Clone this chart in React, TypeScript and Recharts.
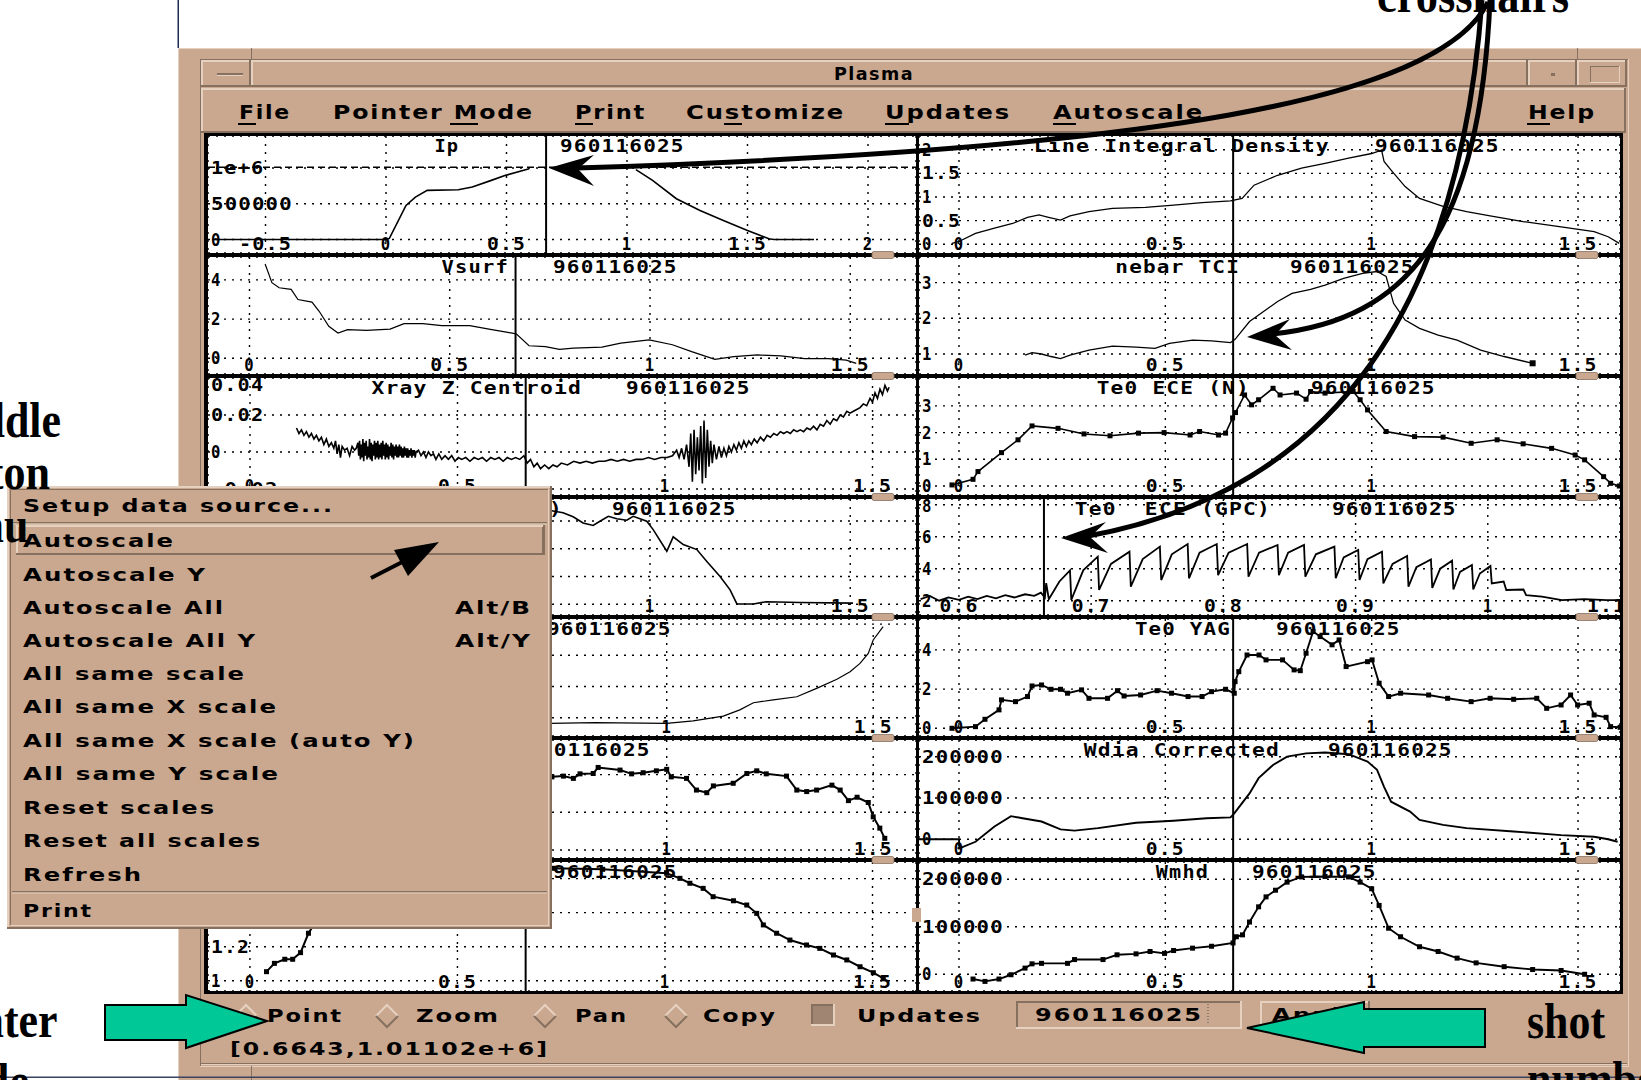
import React from "react";
import { LineChart, Line, XAxis, YAxis, CartesianGrid, ReferenceLine } from "recharts";

type Pt = [number, number | null];

const SHOT = "960116025";
const CROSS_X = 0.6643;
const CROSS_Y = 1.01102e6;
const COORD_TEXT = "[0.6643,1.01102e+6]";

// ---------------- series values ----------------
const ipData: Pt[] = [
  [-0.72, 0], [-0.3, 0], [0.0, 0], [0.014, 15000], [0.083, 477000], [0.122, 593000], [0.171, 687000],
  [0.3, 696000], [0.358, 734000], [0.437, 827000], [0.496, 897000], [0.594, 990000], [0.8, null],
  [1.037, 977000], [1.106, 827000], [1.205, 570000], [1.303, 407000], [1.4, 266000], [1.5, 126000],
  [1.589, 10000], [1.61, 0], [1.776, 0],
];
const vsurfData: Pt[] = [
  [0.039, 4.81], [0.056, 3.86], [0.074, 3.6], [0.104, 3.52], [0.121, 3.0], [0.156, 2.87], [0.174, 2.4],
  [0.198, 1.63], [0.221, 1.29], [0.245, 1.46], [0.292, 1.42], [0.351, 1.49], [0.386, 1.77], [0.433, 1.77],
  [0.48, 1.67], [0.55, 1.67], [0.598, 1.49], [0.645, 1.32], [0.666, 1.25], [0.698, 0.64], [0.739, 0.6],
  [0.774, 0.46], [0.809, 0.52], [0.88, 0.57], [0.927, 0.77], [0.998, 0.94], [1.056, 0.69], [1.104, 0.34],
  [1.162, -0.05], [1.209, 0.09], [1.268, 0.17], [1.327, 0.12], [1.386, -0.02], [1.445, -0.02], [1.49, -0.09],
  [1.515, -0.26],
];
const xrayData: Pt[] = [
  [0.112, 0.013], [0.118, 0.010], [0.124, 0.012], [0.130, 0.009], [0.136, 0.011], [0.142, 0.008], [0.148, 0.010],
  [0.154, 0.007], [0.160, 0.009], [0.166, 0.006], [0.172, 0.008], [0.178, 0.004], [0.184, 0.007], [0.190, 0.003],
  [0.196, 0.005], [0.202, 0.002], [0.206, 0.006], [0.210, -0.001], [0.214, 0.004], [0.218, -0.003], [0.222, 0.003],
  [0.228, 0.001], [0.234, 0.002], [0.240, -0.002], [0.246, 0.003], [0.252, 0.001], [0.256, 0.002],
  [0.260, 0.005], [0.262, -0.002], [0.264, 0.006], [0.266, -0.004], [0.268, 0.004], [0.270, -0.003], [0.272, 0.007],
  [0.274, -0.005], [0.276, 0.005], [0.278, -0.002], [0.280, 0.006], [0.282, -0.004], [0.284, 0.003], [0.286, -0.003],
  [0.288, 0.007], [0.290, -0.004], [0.292, 0.005], [0.294, -0.005], [0.296, 0.004], [0.298, -0.002], [0.300, 0.006],
  [0.302, -0.004], [0.304, 0.005], [0.306, -0.003], [0.308, 0.006], [0.310, -0.004], [0.312, 0.004], [0.314, -0.003],
  [0.316, 0.005], [0.318, -0.004], [0.320, 0.006], [0.322, -0.002], [0.324, 0.004], [0.326, -0.004], [0.328, 0.005],
  [0.330, -0.003], [0.332, 0.004], [0.334, -0.004], [0.336, 0.003], [0.338, -0.002], [0.340, 0.005], [0.342, -0.003],
  [0.344, 0.004], [0.346, -0.004], [0.348, 0.003], [0.350, -0.002], [0.352, 0.004], [0.354, -0.003], [0.356, 0.003],
  [0.358, -0.003], [0.360, 0.004], [0.362, -0.002], [0.364, 0.003], [0.366, -0.003], [0.368, 0.002], [0.370, -0.003],
  [0.372, 0.003], [0.374, -0.002], [0.376, 0.002], [0.378, -0.003], [0.380, 0.002], [0.382, -0.003], [0.384, 0.001],
  [0.386, -0.002], [0.388, 0.002], [0.390, -0.003], [0.392, 0.001], [0.394, -0.002], [0.396, 0.001], [0.398, -0.003],
  [0.400, 0.000], [0.406, 0.001], [0.412, -0.002],
  [0.418, 0.000], [0.424, -0.003], [0.430, 0.000], [0.436, -0.002], [0.442, -0.001], [0.448, -0.004], [0.455, -0.001],
  [0.462, -0.004], [0.470, -0.002], [0.478, -0.004], [0.486, -0.002], [0.494, -0.005], [0.502, -0.003], [0.510, -0.004],
  [0.520, -0.003], [0.530, -0.005], [0.540, -0.003], [0.550, -0.004], [0.560, -0.003], [0.570, -0.005], [0.580, -0.003],
  [0.590, -0.004], [0.600, -0.003], [0.610, -0.005], [0.620, -0.003], [0.630, -0.004], [0.640, -0.003], [0.650, -0.004],
  [0.660, -0.002], [0.668, -0.006], [0.676, -0.004], [0.684, -0.008], [0.692, -0.006], [0.700, -0.009], [0.710, -0.007],
  [0.720, -0.009], [0.730, -0.007], [0.740, -0.008], [0.750, -0.006], [0.765, -0.007], [0.780, -0.005], [0.795, -0.006],
  [0.810, -0.005], [0.825, -0.006], [0.840, -0.005], [0.855, -0.005], [0.870, -0.004], [0.885, -0.005], [0.900, -0.004],
  [0.915, -0.005], [0.930, -0.004], [0.945, -0.004], [0.960, -0.003], [0.975, -0.004], [0.990, -0.003], [1.005, -0.003],
  [1.018, -0.002], [1.028, 0.001], [1.034, -0.003], [1.040, 0.002], [1.046, -0.004], [1.052, 0.004], [1.058, -0.008],
  [1.062, 0.010], [1.066, -0.016], [1.070, 0.012], [1.074, -0.012], [1.078, 0.008], [1.082, -0.010], [1.086, 0.014],
  [1.090, -0.017], [1.094, 0.017], [1.098, -0.014], [1.102, 0.012], [1.106, -0.008], [1.110, 0.006], [1.114, -0.006],
  [1.118, 0.004], [1.124, -0.004], [1.130, 0.003], [1.136, -0.003], [1.142, 0.002], [1.148, -0.002], [1.154, 0.003],
  [1.160, 0.000], [1.166, 0.004], [1.172, 0.001], [1.178, 0.005], [1.184, 0.002], [1.190, 0.006], [1.196, 0.003],
  [1.202, 0.006], [1.208, 0.004], [1.215, 0.007], [1.222, 0.005], [1.230, 0.008], [1.238, 0.006], [1.246, 0.009],
  [1.254, 0.008], [1.262, 0.010], [1.270, 0.009], [1.278, 0.011], [1.286, 0.010], [1.294, 0.011], [1.302, 0.010],
  [1.310, 0.012], [1.318, 0.011], [1.326, 0.012], [1.334, 0.011], [1.342, 0.013], [1.350, 0.012], [1.358, 0.014],
  [1.366, 0.012], [1.374, 0.015], [1.382, 0.014], [1.390, 0.017], [1.398, 0.015], [1.406, 0.018], [1.414, 0.017],
  [1.422, 0.020], [1.430, 0.019], [1.438, 0.022], [1.446, 0.021], [1.454, 0.022], [1.462, 0.023], [1.470, 0.024],
  [1.478, 0.026], [1.486, 0.025], [1.494, 0.029], [1.500, 0.027], [1.506, 0.032], [1.512, 0.029], [1.518, 0.034],
  [1.524, 0.031], [1.530, 0.036], [1.536, 0.033], [1.540, 0.035],
];
const cerData: Pt[] = [
  [0.74, 3.4], [0.758, 3.36], [0.783, 3.3], [0.808, 3.15], [0.833, 2.93], [0.858, 2.84], [0.875, 2.99], [0.896, 3.17],
  [0.917, 3.08], [0.942, 3.03], [0.958, 3.17], [0.992, 2.99], [1.008, 2.69], [1.042, 1.91], [1.058, 2.43], [1.083, 2.15],
  [1.117, 1.97], [1.142, 1.54], [1.175, 1.0], [1.2, 0.52], [1.217, 0.01], [1.258, 0.01], [1.29, 0.09], [1.375, 0.06],
  [1.507, 0.04],
];
const pradData: Pt[] = [
  [0.05, -0.18], [0.717, -0.18], [0.826, -0.16], [1.0, -0.18], [1.064, -0.1], [1.137, 0.05], [1.177, 0.25], [1.21, 0.48],
  [1.258, 0.57], [1.315, 0.67], [1.363, 0.94], [1.412, 1.23], [1.444, 1.47], [1.468, 1.74], [1.488, 2.06], [1.5, 2.49],
  [1.524, 2.92],
];
const q95Data: Pt[] = [
  [0.722, 1.94], [0.75, 1.96], [0.774, 1.9], [0.79, 2.02], [0.822, 2.03], [0.834, 2.19], [0.887, 2.12], [0.915, 2.02],
  [0.943, 2.05], [0.975, 2.1], [1.0, 2.14], [1.011, 1.94], [1.048, 1.9], [1.072, 1.59], [1.097, 1.52], [1.113, 1.7],
  [1.161, 1.77], [1.194, 2.03], [1.218, 2.1], [1.241, 2.02], [1.29, 1.96], [1.315, 1.59], [1.339, 1.55], [1.363, 1.59],
  [1.4, 1.72], [1.42, 1.59], [1.44, 1.31], [1.461, 1.4], [1.488, 1.26], [1.5, 0.88], [1.516, 0.58], [1.528, 0.31],
];
const liData: Pt[] = [
  [0.04, 1.053], [0.059, 1.102], [0.084, 1.126], [0.103, 1.126], [0.122, 1.165], [0.141, 1.279], [0.2, 1.5], [0.3, 1.6],
  [0.5, 1.65], [0.731, 1.661], [0.85, 1.655], [1.004, 1.632], [1.036, 1.602], [1.06, 1.573], [1.092, 1.543],
  [1.116, 1.494], [1.165, 1.47], [1.197, 1.445], [1.221, 1.396], [1.237, 1.328], [1.269, 1.279], [1.301, 1.239],
  [1.341, 1.21], [1.373, 1.19], [1.406, 1.151], [1.438, 1.122], [1.47, 1.082], [1.502, 1.047], [1.526, 1.014],
];
const lidData: Pt[] = [
  [-0.017, 0.02], [0.0, 0.06], [0.04, 0.23], [0.086, 0.34], [0.13, 0.44], [0.166, 0.57], [0.194, 0.62], [0.217, 0.57],
  [0.246, 0.51], [0.269, 0.6], [0.315, 0.69], [0.372, 0.76], [0.452, 0.78], [0.52, 0.83], [0.589, 0.88], [0.658, 0.92],
  [0.686, 0.97], [0.715, 1.25], [0.772, 1.46], [0.83, 1.61], [0.887, 1.71], [0.944, 1.82], [1.0, 1.92], [1.024, 1.99],
  [1.03, 1.75], [1.047, 1.57], [1.081, 1.22], [1.116, 0.97], [1.173, 0.8], [1.23, 0.69], [1.287, 0.6], [1.367, 0.48],
  [1.459, 0.37], [1.539, 0.27], [1.573, 0.16], [1.6, 0.02],
];
const nebarData: Pt[] = [
  [0.16, 0.97], [0.177, 1.04], [0.2, 1.0], [0.223, 0.93], [0.246, 0.87], [0.269, 0.97], [0.315, 1.11], [0.372, 1.22],
  [0.429, 1.19], [0.475, 1.16], [0.51, 1.3], [0.566, 1.39], [0.612, 1.37], [0.658, 1.32], [0.669, 1.41], [0.704, 1.91],
  [0.738, 2.19], [0.772, 2.47], [0.807, 2.7], [0.852, 2.81], [0.887, 2.93], [0.932, 3.12], [0.978, 3.26], [1.013, 3.31],
  [1.035, 3.17], [1.053, 2.42], [1.081, 1.95], [1.116, 1.72], [1.161, 1.53], [1.207, 1.39], [1.264, 1.11], [1.321, 0.93],
  [1.39, 0.74],
];
const eceData: Pt[] = [
  [-0.017, 0.04], [0.034, 0.25], [0.046, 0.54], [0.103, 1.25], [0.143, 1.73], [0.177, 2.25], [0.24, 2.16], [0.303, 1.95],
  [0.366, 1.88], [0.435, 1.98], [0.497, 2.0], [0.56, 1.91], [0.583, 2.04], [0.629, 1.91], [0.646, 1.98], [0.663, 2.55],
  [0.67, 2.75], [0.692, 3.41], [0.709, 3.04], [0.726, 3.23], [0.761, 3.66], [0.778, 3.41], [0.818, 3.48], [0.841, 3.25],
  [0.852, 3.54], [0.887, 3.48], [0.955, 3.54], [0.972, 3.23], [0.99, 2.85], [1.035, 2.04], [1.104, 1.85], [1.173, 1.83],
  [1.241, 1.6], [1.304, 1.73], [1.367, 1.58], [1.436, 1.41], [1.493, 1.16], [1.516, 0.98], [1.562, 0.35], [1.579, 0.1],
  [1.6, 0.0],
];
const gpcData: Pt[] = [
  [0.571, 2.1], [0.578, 2.3], [0.585, 2.0], [0.592, 2.2], [0.6, 2.05], [0.607, 2.25], [0.614, 2.1], [0.621, 2.3],
  [0.628, 2.15], [0.635, 2.35], [0.642, 2.2], [0.65, 2.4], [0.657, 2.3], [0.662, 2.5], [0.665, 2.2], [0.666, 3.1],
  [0.668, 2.1], [0.676, 3.2], [0.684, 3.9], [0.685, 2.05], [0.694, 3.9], [0.705, 4.75], [0.706, 2.67], [0.715, 4.3],
  [0.729, 5.06], [0.73, 2.88], [0.739, 4.6], [0.752, 5.38], [0.753, 3.29], [0.761, 4.9], [0.773, 5.54], [0.774, 3.4],
  [0.782, 5.0], [0.795, 5.54], [0.796, 3.6], [0.804, 5.0], [0.818, 5.54], [0.819, 3.5], [0.827, 5.0], [0.841, 5.48],
  [0.842, 3.6], [0.849, 5.0], [0.861, 5.48], [0.862, 3.5], [0.87, 4.9], [0.884, 5.38], [0.885, 3.4], [0.891, 4.7],
  [0.902, 5.17], [0.903, 3.29], [0.909, 4.6], [0.92, 5.06], [0.921, 3.08], [0.928, 4.3], [0.939, 4.79], [0.94, 2.88],
  [0.946, 4.1], [0.957, 4.58], [0.958, 2.8], [0.964, 4.0], [0.973, 4.5], [0.974, 2.7], [0.979, 3.8], [0.988, 4.23],
  [0.989, 2.7], [0.994, 3.7], [1.002, 4.17], [1.003, 3.08], [1.012, 3.2], [1.014, 2.67], [1.027, 2.7], [1.029, 2.35],
  [1.041, 2.25], [1.056, 2.04], [1.073, 2.1], [1.09, 2.04], [1.1, 2.04],
];
const yagData: Pt[] = [
  [-0.017, 0], [0.04, 0.085], [0.063, 0.46], [0.097, 0.94], [0.103, 1.45], [0.137, 1.36], [0.166, 1.62], [0.177, 2.16],
  [0.2, 2.21], [0.223, 1.99], [0.246, 1.99], [0.263, 1.79], [0.297, 1.96], [0.315, 1.53], [0.36, 1.53], [0.384, 1.92],
  [0.4, 1.65], [0.44, 1.7], [0.48, 1.92], [0.515, 1.79], [0.555, 1.62], [0.589, 1.62], [0.612, 1.87], [0.646, 1.99],
  [0.667, 1.79], [0.669, 2.38], [0.678, 2.89], [0.698, 3.74], [0.727, 3.74], [0.744, 3.49], [0.784, 3.49], [0.812, 2.98],
  [0.827, 2.94], [0.841, 3.83], [0.858, 4.94], [0.875, 4.68], [0.904, 4.26], [0.921, 4.51], [0.938, 3.15], [0.99, 3.4],
  [1.001, 3.49], [1.018, 2.3], [1.041, 1.62], [1.07, 1.79], [1.138, 1.7], [1.184, 1.53], [1.241, 1.36], [1.287, 1.53],
  [1.344, 1.48], [1.4, 1.53], [1.424, 1.02], [1.459, 1.19], [1.482, 1.7], [1.499, 1.19], [1.527, 1.28], [1.539, 0.68],
  [1.568, 0.56], [1.579, 0.085], [1.602, 0.05],
];
const wdiaData: Pt[] = [
  [-0.1, 0], [0.0, 0], [0.001, -22000], [0.04, -6000], [0.086, 31000], [0.126, 56000], [0.154, 51000], [0.2, 43000],
  [0.246, 24000], [0.28, 21000], [0.337, 27000], [0.429, 40000], [0.52, 45000], [0.6, 51000], [0.658, 53000],
  [0.667, 63000], [0.704, 111000], [0.726, 148000], [0.761, 180000], [0.795, 200000], [0.841, 208000], [0.887, 210000],
  [0.944, 206000], [0.99, 188000], [1.013, 168000], [1.03, 127000], [1.047, 91000], [1.093, 67000], [1.116, 47000],
  [1.173, 35000], [1.23, 27000], [1.344, 19000], [1.459, 10000], [1.539, 6000], [1.573, 0], [1.596, -6000],
];
const wmhdData: Pt[] = [
  [0.034, -10000], [0.063, -15000], [0.097, -10000], [0.126, -1000], [0.16, 13000], [0.177, 22000], [0.2, 23000],
  [0.263, 23000], [0.28, 31000], [0.349, 31000], [0.383, 41000], [0.429, 43000], [0.463, 48000], [0.498, 44000],
  [0.52, 50000], [0.566, 55000], [0.612, 59000], [0.664, 66000], [0.672, 79000], [0.687, 83000], [0.704, 110000],
  [0.726, 142000], [0.744, 163000], [0.767, 177000], [0.795, 194000], [0.83, 205000], [0.887, 206000], [0.944, 205000],
  [0.972, 194000], [1.0, 180000], [1.018, 145000], [1.041, 97000], [1.07, 79000], [1.116, 58000], [1.161, 48000],
  [1.207, 34000], [1.253, 24000], [1.321, 16000], [1.39, 10000], [1.459, 8000], [1.516, 0],
];

// ---------------- tick values ----------------
const ticksTime = [0, 0.5, 1, 1.5];
const ticksIpX = [-0.5, 0, 0.5, 1, 1.5, 2];
const ticksGpcX = [0.6, 0.7, 0.8, 0.9, 1, 1.1];
const ticksIpY = [0, 500000, 1000000];
const ticksVsurfY = [0, 2, 4];
const ticksXrayY = [-0.02, 0, 0.02, 0.04];
const ticks0to3 = [0, 1, 2, 3];
const ticks0to2 = [0, 1, 2];
const ticksLiY = [1, 1.2, 1.4, 1.6];
const ticksLidY = [0, 0.5, 1, 1.5, 2];
const ticksNebarY = [1, 2, 3];
const ticksGpcY = [2, 4, 6, 8];
const ticksYagY = [0, 2, 4];
const ticksEnergyY = [0, 100000, 200000];

// ---------------- UI texts ----------------
const menuBarItems = ["File", "Pointer Mode", "Print", "Customize", "Updates", "Autoscale", "Help"];
const popupItems = [
  "Setup data source...", "Autoscale", "Autoscale Y", "Autoscale All", "Autoscale All Y", "All same scale",
  "All same X scale", "All same X scale (auto Y)", "All same Y scale", "Reset scales", "Reset all scales", "Refresh", "Print",
];
const popupShortcuts: Record<string, string> = { "Autoscale All": "Alt/B", "Autoscale All Y": "Alt/Y" };
const pointerModes = ["Point", "Zoom", "Pan", "Copy"];

// ---------------- style ----------------
const TAN = "#c9a88f";
const LIGHT = "#e6d1c0";
const DARK = "#86705f";
const GREEN = "#00c896";
const UI_FONT = '"DejaVu Sans", "Noto Sans", sans-serif';
const MONO = '"DejaVu Sans Mono", "Liberation Mono", monospace';
const SERIF = '"Liberation Serif", "Times New Roman", serif';

type Dots = "none" | "square" | "end";
interface PanelCfg {
  id: string; x: number; y: number; w: number; h: number;
  data: Pt[]; xDomain: [number, number]; yDomain: [number, number];
  xTicks: number[]; yTicks: number[];
  title: string; titleEnd: number; shotX: number;
  dots?: Dots; hLine?: number; sw?: number;
}

const LX = 208, LW = 708, RX = 919, RW = 701;
const rowY = [136, 257, 378, 499, 619, 740, 862];
const rowH = [117, 117, 117, 116, 117, 118, 129];

const panels: PanelCfg[] = [
  { id: "ip", x: LX, y: rowY[0], w: LW, h: rowH[0], data: ipData, xDomain: [-0.7386, 2.1992], yDomain: [-188800, 1447600], xTicks: ticksIpX, yTicks: ticksIpY, title: "Ip", titleEnd: 459, shotX: 560, hLine: CROSS_Y },
  { id: "vsurf", x: LX, y: rowY[1], w: LW, h: rowH[1], data: vsurfData, xDomain: [-0.1036, 1.6642], yDomain: [-0.801, 5.168], xTicks: ticksTime, yTicks: ticksVsurfY, title: "Vsurf", titleEnd: 509, shotX: 553, sw: 1.2 },
  { id: "xray", x: LX, y: rowY[2], w: LW, h: rowH[2], data: xrayData, xDomain: [-0.1012, 1.6048], yDomain: [-0.02324, 0.04], xTicks: ticksTime, yTicks: ticksXrayY, title: "Xray Z Centroid", titleEnd: 582, shotX: 626, sw: 1.6 },
  { id: "cer", x: LX, y: rowY[3], w: LW, h: rowH[3], data: cerData, xDomain: [-0.1036, 1.6642], yDomain: [-0.388, 3.793], xTicks: ticksTime, yTicks: ticks0to3, title: "Ti0 CER (T)", titleEnd: 563, shotX: 612 },
  { id: "prad", x: LX, y: rowY[4], w: LW, h: rowH[4], data: pradData, xDomain: [-0.1107, 1.6036], yDomain: [-0.587, 3.163], xTicks: ticksTime, yTicks: ticks0to3, title: "Prad", titleEnd: 503, shotX: 547, sw: 1.2 },
  { id: "q95", x: LX, y: rowY[5], w: LW, h: rowH[5], data: q95Data, xDomain: [-0.1107, 1.6036], yDomain: [-0.212, 2.918], xTicks: ticksTime, yTicks: ticks0to2, title: "q95", titleEnd: 482, shotX: 526, dots: "square", sw: 2 },
  { id: "li", x: LX, y: rowY[6], w: LW, h: rowH[6], data: liData, xDomain: [-0.101, 1.6048], yDomain: [0.9394, 1.698], xTicks: ticksTime, yTicks: ticksLiY, title: "li", titleEnd: 509, shotX: 553, dots: "square", sw: 2 },
  { id: "lid", x: RX, y: rowY[0], w: RW, h: rowH[0], data: lidData, xDomain: [-0.0969, 1.6017], yDomain: [-0.184, 2.29], xTicks: ticksTime, yTicks: ticksLidY, title: "Line Integral Density", titleEnd: 1330, shotX: 1375, sw: 1.3 },
  { id: "nebar", x: RX, y: rowY[1], w: RW, h: rowH[1], data: nebarData, xDomain: [-0.0969, 1.6017], yDomain: [0.44, 3.717], xTicks: ticksTime, yTicks: ticksNebarY, title: "nebar TCI", titleEnd: 1240, shotX: 1290, dots: "end", sw: 1.3 },
  { id: "ece", x: RX, y: rowY[2], w: RW, h: rowH[2], data: eceData, xDomain: [-0.0969, 1.6017], yDomain: [-0.337, 4.045], xTicks: ticksTime, yTicks: ticks0to3, title: "Te0 ECE (N)", titleEnd: 1250, shotX: 1311, dots: "square" },
  { id: "gpc", x: RX, y: rowY[3], w: RW, h: rowH[3], data: gpcData, xDomain: [0.5698, 1.1], yDomain: [1.106, 8.356], xTicks: ticksGpcX, yTicks: ticksGpcY, title: "Te0  ECE (GPC)", titleEnd: 1271, shotX: 1332, sw: 1.8 },
  { id: "yag", x: RX, y: rowY[4], w: RW, h: rowH[4], data: yagData, xDomain: [-0.0969, 1.6017], yDomain: [-0.393, 5.577], xTicks: ticksTime, yTicks: ticksYagY, title: "Te0 YAG", titleEnd: 1231, shotX: 1276, dots: "square", sw: 1.9 },
  { id: "wdia", x: RX, y: rowY[5], w: RW, h: rowH[5], data: wdiaData, xDomain: [-0.0969, 1.6017], yDomain: [-45300, 240400], xTicks: ticksTime, yTicks: ticksEnergyY, title: "Wdia Corrected", titleEnd: 1280, shotX: 1328, sw: 1.9 },
  { id: "wmhd", x: RX, y: rowY[6], w: RW, h: rowH[6], data: wmhdData, xDomain: [-0.0969, 1.6017], yDomain: [-35200, 236400], xTicks: ticksTime, yTicks: ticksEnergyY, title: "Wmhd", titleEnd: 1209, shotX: 1252, dots: "square", sw: 1.9 },
];

function fmt(v: number): string {
  if (v === 1e6) return "1e+6";
  return String(v);
}

const CHAR_W = 14.3;
const panelFont: React.CSSProperties = { fontFamily: MONO, fontWeight: 700, fontSize: 17.5, letterSpacing: "1px" };

function PText({ x, y, s, anchor = "start" }: { x: number; y: number; s: string; anchor?: "start" | "middle" | "end" }) {
  return (
    <text x={x} y={y} textAnchor={anchor} fill="#000" textLength={s.length * CHAR_W - 4} lengthAdjust="spacingAndGlyphs"
      xmlSpace="preserve" style={{ ...panelFont, whiteSpace: "pre" }}>
      {s}
    </text>
  );
}

function Panel({ p }: { p: PanelCfg }) {
  const data = p.data.map(([x, y]) => ({ x, y }));
  const xTick = (t: any) => {
    const s = fmt(t.payload.value);
    const half = (s.length * CHAR_W - 4) / 2;
    return <PText x={Math.min(t.x, p.w - half + 6)} y={p.h - 3} s={s} anchor="middle" />;
  };
  const yTick = (t: any) => <PText x={3} y={Math.max(t.y + 6, 13)} s={fmt(t.payload.value)} />;
  const last = data.length - 1;
  let dot: any = false;
  if (p.dots === "square") {
    dot = (d: any) =>
      d.cx == null || d.cy == null ? <g key={`e${d.index}`} /> :
        <rect key={`d${d.index}`} x={d.cx - 2.5} y={d.cy - 2.5} width={5} height={5} fill="#000" />;
  } else if (p.dots === "end") {
    dot = (d: any) =>
      d.index === last && d.cx != null ? <rect key={`d${d.index}`} x={d.cx - 3} y={d.cy - 3} width={6} height={6} fill="#000" /> :
        <g key={`e${d.index}`} />;
  }
  return (
    <div style={{ position: "absolute", left: p.x, top: p.y, width: p.w, height: p.h, background: "#fff", overflow: "hidden" }}>
      <LineChart width={p.w} height={p.h} data={data} margin={{ top: 0, right: 0, bottom: 0, left: 0 }}>
        <CartesianGrid stroke="#000" strokeDasharray="2 6" strokeWidth={1.4} />
        <XAxis type="number" dataKey="x" domain={p.xDomain} ticks={p.xTicks} allowDataOverflow mirror
          axisLine={false} tickLine={false} interval={0} tick={xTick} />
        <YAxis type="number" domain={p.yDomain} ticks={p.yTicks} allowDataOverflow mirror
          axisLine={false} tickLine={false} interval={0} tick={yTick} />
        <ReferenceLine x={CROSS_X} stroke="#000" strokeWidth={2} />
        {p.hLine != null && <ReferenceLine y={p.hLine} stroke="#000" strokeWidth={1.5} strokeDasharray="7 4" />}
        <Line type="linear" dataKey="y" stroke="#000" strokeWidth={p.sw ?? 1.6} dot={dot}
          isAnimationActive={false} connectNulls={false} />
      </LineChart>
      <svg width={p.w} height={p.h} style={{ position: "absolute", left: 0, top: 0, pointerEvents: "none" }}>
        <PText x={p.titleEnd - p.x} y={16} s={p.title} anchor="end" />
        <PText x={p.shotX - p.x} y={16} s={SHOT} />
      </svg>
    </div>
  );
}

function Bevel({ x, y, w, h, raised = true, t = 2 }: { x: number; y: number; w: number; h: number; raised?: boolean; t?: number }) {
  const a = raised ? LIGHT : DARK;
  const b = raised ? DARK : LIGHT;
  return (
    <g>
      <rect x={x} y={y} width={w} height={t} fill={a} />
      <rect x={x} y={y} width={t} height={h} fill={a} />
      <rect x={x} y={y + h - t} width={w} height={t} fill={b} />
      <rect x={x + w - t} y={y} width={t} height={h} fill={b} />
    </g>
  );
}

const uiStyle = (size: number): React.CSSProperties => ({
  fontFamily: UI_FONT, fontWeight: 700, fontSize: size, letterSpacing: "1.5px",
});

function UText({ x, y, w, s, size = 18 }: { x: number; y: number; w: number; s: string; size?: number }) {
  return (
    <text x={x} y={y} fill="#000" textLength={w} lengthAdjust="spacingAndGlyphs" style={uiStyle(size)}>{s}</text>
  );
}

const menuBarX = [239, 333, 575, 686, 885, 1053, 1528];
const menuBarW = [52, 201, 71, 159, 126, 151, 68];
const menuUnderline: [number, number][] = [[238, 18], [450, 28], [575, 18], [724, 18], [885, 24], [1053, 23], [1527, 23]];
const popupBase = [512, 547, 581, 614, 647, 680, 713, 747, 780, 814, 847, 881, 917];
const popupW = [311, 152, 184, 202, 234, 223, 255, 393, 257, 193, 239, 120, 70];
const modeCenters = [246, 387, 545, 676];
const modeTextX = [267, 416, 575, 703];
const modeTextW = [76, 84, 53, 74];

function Chrome() {
  return (
    <svg width={1641} height={1080} style={{ position: "absolute", left: 0, top: 0 }}>
      <rect x={0} y={0} width={1641} height={1080} fill="#fff" />
      <rect x={177.5} y={0} width={1.5} height={48} fill="#1c2c55" />
      <rect x={178} y={48} width={1463} height={1032} fill={TAN} />
      <Bevel x={178} y={48} w={1470} h={1040} raised t={1} />
      <Bevel x={200} y={59} w={1429} h={1008} raised={false} t={1} />
      <rect x={251} y={48} width={1} height={12} fill={DARK} />
      <rect x={1577} y={48} width={1} height={12} fill={DARK} />
      <rect x={251} y={1066} width={1} height={14} fill={DARK} />
      {/* title bar */}
      <Bevel x={201} y={60} w={50} h={27} />
      <Bevel x={251} y={60} w={1277} h={27} />
      <Bevel x={1528} y={60} w={49} h={27} />
      <Bevel x={1577} y={60} w={50} h={27} />
      <rect x={217} y={73} width={26} height={2} fill={DARK} />
      <rect x={217} y={75} width={26} height={1} fill={LIGHT} />
      <rect x={1551} y={73} width={4} height={3} fill={DARK} />
      <Bevel x={1590} y={66} w={30} h={17} raised={false} t={1} />
      <UText x={834} y={80} w={80} s="Plasma" size={18} />
      {/* menu bar */}
      <Bevel x={201} y={88} w={1425} h={45} />
      {menuBarItems.map((m, i) => (
        <UText key={m} x={menuBarX[i]} y={118.5} w={menuBarW[i]} s={m} size={19} />
      ))}
      {menuUnderline.map(([x, w], i) => (
        <rect key={`u${i}`} x={x} y={123} width={w} height={2} fill="#000" />
      ))}
      {/* plot frame */}
      <rect x={204} y={133} width={1419} height={861} fill="#000" />
      {/* status bar */}
      {modeCenters.map((cx, i) => (
        <g key={`rb${i}`}>
          <polygon points={`${cx},1005 ${cx + 11},1016 ${cx},1027 ${cx - 11},1016`} fill={TAN} />
          <polyline points={`${cx - 11},1016 ${cx},1005 ${cx + 11},1016`} fill="none" stroke={LIGHT} strokeWidth={2} />
          <polyline points={`${cx - 11},1016 ${cx},1027 ${cx + 11},1016`} fill="none" stroke={DARK} strokeWidth={2} />
        </g>
      ))}
      {pointerModes.map((m, i) => (
        <UText key={m} x={modeTextX[i]} y={1022} w={modeTextW[i]} s={m} size={18} />
      ))}
      <rect x={811} y={1004} width={24} height={22} fill="#a08672" />
      <Bevel x={811} y={1004} w={24} h={22} raised={false} t={2} />
      <UText x={857} y={1022} w={125} s="Updates" size={18} />
      <Bevel x={1016} y={1001} w={226} h={28} raised={false} t={2} />
      <UText x={1035} y={1021} w={168} s={SHOT} size={18} />
      <line x1={1208} y1={1004} x2={1208} y2={1025} stroke="#555" strokeWidth={1} strokeDasharray="1 2" />
      <Bevel x={1260} y={1001} w={110} h={28} raised t={2} />
      <UText x={1272} y={1021} w={88} s="Apply" size={18} />
      <UText x={230} y={1055} w={319} s={COORD_TEXT} size={18} />
      <rect x={201} y={1063} width={1426} height={1} fill={DARK} />
      <rect x={201} y={1064} width={1426} height={1} fill={LIGHT} />
      <rect x={0} y={1076.5} width={1641} height={1.5} fill="#3a4260" />
    </svg>
  );
}

const sashY = [255, 376, 497, 617, 738, 860];

function Overlay() {
  return (
    <svg width={1641} height={1080} style={{ position: "absolute", left: 0, top: 0, pointerEvents: "none" }}>
      {sashY.map((y) => (
        <g key={`s${y}`}>
          <rect x={872} y={y - 3.5} width={22} height={7} rx={2} fill={TAN} stroke={DARK} strokeWidth={0.8} />
          <rect x={1576} y={y - 3.5} width={22} height={7} rx={2} fill={TAN} stroke={DARK} strokeWidth={0.8} />
        </g>
      ))}
      <rect x={912} y={908} width={9} height={14} fill={TAN} />
      {/* popup menu */}
      <rect x={7} y={486} width={545} height={443} fill={TAN} />
      <Bevel x={7} y={486} w={545} h={443} raised t={2} />
      <Bevel x={10} y={489} w={539} h={437} raised={false} t={1} />
      <rect x={12} y={522} width={535} height={1.5} fill={DARK} />
      <rect x={12} y={523.5} width={535} height={1} fill={LIGHT} />
      <rect x={12} y={891} width={535} height={1.5} fill={DARK} />
      <rect x={12} y={892.5} width={535} height={1} fill={LIGHT} />
      <Bevel x={16} y={525} w={529} h={30} raised t={2} />
      <rect x={542} y={527} width={3} height={28} fill={DARK} />
      {popupItems.map((it, i) => (
        <g key={`p${i}`}>
          <UText x={23} y={popupBase[i]} w={popupW[i]} s={it} size={18} />
          {popupShortcuts[it] && <UText x={455} y={popupBase[i]} w={77} s={popupShortcuts[it]} size={18} />}
        </g>
      ))}
      {/* small arrow in the popup */}
      <line x1={371} y1={578} x2={412} y2={557} stroke="#000" strokeWidth={4} />
      <polygon points="439,542 394,550 408,576" fill="#000" />
      {/* crosshair annotation curves */}
      <path d="M 1488 2 C 1440 100, 1150 150, 576 168" fill="none" stroke="#000" strokeWidth={5} />
      <path d="M 549 168 L 594 155 L 578 169 L 594 186 Z" fill="#000" />
      <path d="M 1490 0 C 1480 230, 1410 320, 1272 334" fill="none" stroke="#000" strokeWidth={5} />
      <path d="M 1247 337 L 1290 319 L 1275 335 L 1292 350 Z" fill="#000" />
      <path d="M 1482 0 C 1460 300, 1340 490, 1088 536" fill="none" stroke="#000" strokeWidth={5} />
      <path d="M 1061 538 L 1106 522 L 1090 537 L 1108 553 Z" fill="#000" />
      {/* green arrows */}
      <polygon points="105,1005 186,1005 186,995 267,1021 186,1048 186,1040 105,1040" fill={GREEN} stroke="#000" strokeWidth={2} />
      <polygon points="1485,1009 1364,1009 1364,1002 1247,1028 1364,1053 1364,1047 1485,1047" fill={GREEN} stroke="#000" strokeWidth={2} />
      {/* annotation words */}
      <g style={{ fontFamily: SERIF, fontWeight: 700, fontSize: 50 }} fill="#000">
        <text x={1377} y={12} textLength={192} lengthAdjust="spacingAndGlyphs">crosshairs</text>
        <text x={61} y={437} textAnchor="end" textLength={134} lengthAdjust="spacingAndGlyphs">Middle</text>
        <text x={50} y={489} textAnchor="end" textLength={125} lengthAdjust="spacingAndGlyphs">button</text>
        <text x={28.5} y={542} textAnchor="end" textLength={105} lengthAdjust="spacingAndGlyphs">menu</text>
        <text x={57.5} y={1037} textAnchor="end" textLength={139} lengthAdjust="spacingAndGlyphs">Pointer</text>
        <text x={29} y={1098} textAnchor="end" textLength={103} lengthAdjust="spacingAndGlyphs">mode</text>
        <text x={1527} y={1038} textLength={78} lengthAdjust="spacingAndGlyphs">shot</text>
        <text x={1527} y={1096} textLength={149} lengthAdjust="spacingAndGlyphs">number</text>
      </g>
    </svg>
  );
}

export default function App() {
  return (
    <div style={{ position: "absolute", left: 0, top: 0, width: 1641, height: 1080, overflow: "hidden", background: "#fff" }}>
      <Chrome />
      {panels.map((p) => <Panel key={p.id} p={p} />)}
      <Overlay />
    </div>
  );
}
